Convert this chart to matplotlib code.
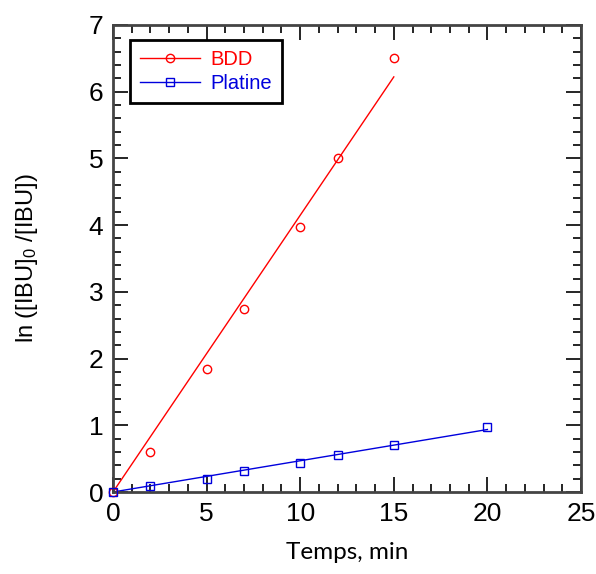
import matplotlib.pyplot as plt
import numpy as np

# data
t_bdd = np.array([0, 2, 5, 7, 10, 12, 15])
y_bdd = np.array([0, 0.60, 1.85, 2.75, 3.97, 5.00, 6.50])
t_pt = np.array([0, 2, 5, 7, 10, 12, 15, 20])
y_pt = np.array([0, 0.09, 0.20, 0.31, 0.43, 0.55, 0.70, 0.98])

plt.rcParams['font.family'] = ['Liberation Sans', 'DejaVu Sans']
plt.rcParams['mathtext.fontset'] = 'custom'
plt.rcParams['mathtext.rm'] = 'Liberation Sans'
plt.rcParams['mathtext.it'] = 'Liberation Sans:italic'

fig = plt.figure(figsize=(5.96, 5.74), dpi=100)
ax = fig.add_axes([113/596, 1-492/574, (581-113)/596, (492-25)/574])

# linear fits forced through the origin
k_bdd = np.sum(t_bdd*y_bdd)/np.sum(t_bdd**2)
k_pt = np.sum(t_pt*y_pt)/np.sum(t_pt**2)
xf_bdd = np.array([0, t_bdd.max()])
xf_pt = np.array([0, t_pt.max()])

ax.plot(xf_bdd, k_bdd*xf_bdd, '-', color='red', lw=1)
ax.plot(t_bdd, y_bdd, 'o', mfc='none', mec='red', ms=6, mew=1, clip_on=False, zorder=5)
ax.plot(xf_pt, k_pt*xf_pt, '-', color='#0000dd', lw=1)
ax.plot(t_pt, y_pt, 's', mfc='none', mec='#0000dd', ms=6, mew=1, clip_on=False, zorder=5)

# legend proxies
h1, = ax.plot([], [], '-o', color='red', mfc='none', ms=6, lw=1)
h2, = ax.plot([], [], '-s', color='#0000dd', mfc='none', ms=6, lw=1)
leg = ax.legend([h1, h2], ['BDD', 'Platine'], loc='upper left',
                bbox_to_anchor=(17/468, 1-15/467), borderaxespad=0,
                fontsize=14.5, fancybox=False, framealpha=1, edgecolor='black',
                handlelength=3.0, handletextpad=0.5, borderpad=0.5,
                labelspacing=0.25)
leg.get_frame().set_linewidth(2)
for txt, c in zip(leg.get_texts(), ['red', '#0000dd']):
    txt.set_color(c)

ax.set_xlim(0, 25)
ax.set_ylim(0, 7)
ax.set_xticks(np.arange(0, 26, 5))
ax.set_xticks(np.arange(0, 26, 1), minor=True)
ax.set_yticks(np.arange(0, 8, 1))
ax.set_yticks(np.arange(0, 7.01, 0.2), minor=True)
ax.tick_params(which='both', direction='in', top=True, right=True, labelsize=19, width=1.2)
ax.tick_params(which='major', length=11, pad=7)
ax.tick_params(which='minor', length=5.5)
for s in ax.spines.values():
    s.set_linewidth(2)
    s.set_color('#444444')

ax.set_xlabel('Temps, min', fontsize=17.5, family='Lato', labelpad=12)
ax.set_ylabel(r'ln ([IBU]$_{\mathrm{0}}$ /[IBU])', fontsize=17, labelpad=35)

plt.savefig('out.png')
plt.close()
